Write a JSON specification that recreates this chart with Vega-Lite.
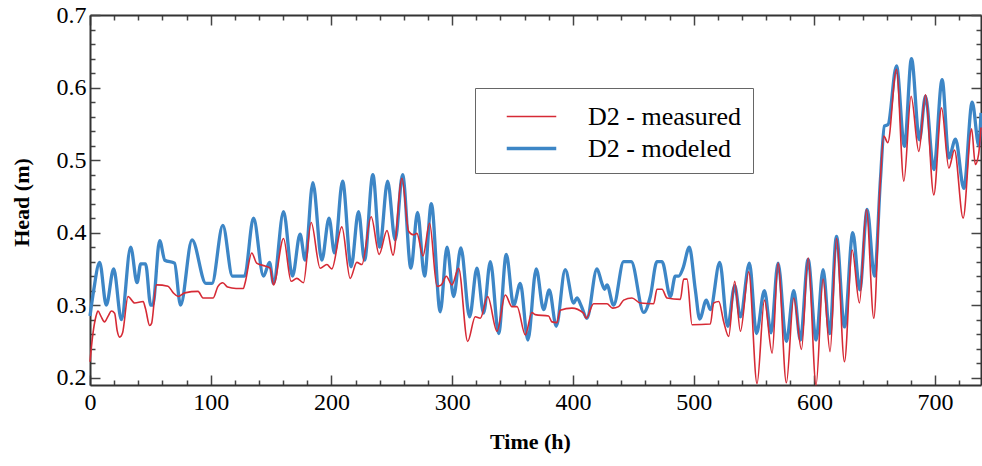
{
  "$schema": "https://vega.github.io/schema/vega-lite/v6.json",
  "width": 891,
  "height": 370,
  "autosize": "none",
  "padding": {"left": 90, "top": 15, "right": 1, "bottom": 81},
  "background": "white",
  "config": {"view": {"stroke": null}, "font": "Liberation Serif"},
  "datasets": {
    "modeled": [
      {"t":0,"h":0.285},{"t":3,"h":0.32},{"t":8,"h":0.359},{"t":13.5,"h":0.3},{"t":19.6,"h":0.35},{"t":26,"h":0.28},{"t":33.7,"h":0.38},{"t":39,"h":0.331},{"t":42,"h":0.357},{"t":46,"h":0.357},{"t":50.3,"h":0.3},{"t":52,"h":0.3},{"t":57.7,"h":0.389},{"t":62,"h":0.362},{"t":70,"h":0.358},{"t":75,"h":0.3},{"t":84.5,"h":0.39},{"t":96,"h":0.33},{"t":101,"h":0.33},{"t":110,"h":0.41},{"t":118,"h":0.34},{"t":128,"h":0.34},{"t":135.4,"h":0.42},{"t":143.7,"h":0.34},{"t":148.7,"h":0.359},{"t":152,"h":0.33},{"t":160.3,"h":0.429},{"t":167.7,"h":0.34},{"t":174,"h":0.398},{"t":178.2,"h":0.362},{"t":184.6,"h":0.469},{"t":192,"h":0.362},{"t":198,"h":0.42},{"t":202.5,"h":0.372},{"t":209.2,"h":0.471},{"t":216.3,"h":0.353},{"t":222.4,"h":0.429},{"t":227.4,"h":0.362},{"t":234.3,"h":0.48},{"t":240,"h":0.38},{"t":246.5,"h":0.471},{"t":252.8,"h":0.39},{"t":258.9,"h":0.48},{"t":265.8,"h":0.351},{"t":271.3,"h":0.428},{"t":277.1,"h":0.34},{"t":282.7,"h":0.44},{"t":290.1,"h":0.291},{"t":295.7,"h":0.38},{"t":301.2,"h":0.312},{"t":307.2,"h":0.379},{"t":314.4,"h":0.284},{"t":320.5,"h":0.351},{"t":326,"h":0.289},{"t":331.6,"h":0.36},{"t":338.5,"h":0.261},{"t":344.8,"h":0.37},{"t":350.9,"h":0.3},{"t":356.4,"h":0.33},{"t":362.7,"h":0.252},{"t":369.6,"h":0.35},{"t":375.7,"h":0.294},{"t":380.4,"h":0.321},{"t":386.2,"h":0.271},{"t":393.6,"h":0.349},{"t":400.6,"h":0.303},{"t":403.3,"h":0.31},{"t":406.9,"h":0.299},{"t":411.6,"h":0.282},{"t":419.9,"h":0.35},{"t":424,"h":0.33},{"t":426.2,"h":0.322},{"t":428.2,"h":0.328},{"t":433.7,"h":0.3},{"t":442,"h":0.36},{"t":448.3,"h":0.36},{"t":458.6,"h":0.29},{"t":464.1,"h":0.312},{"t":469.6,"h":0.36},{"t":473.8,"h":0.36},{"t":480.7,"h":0.312},{"t":484.8,"h":0.34},{"t":487.6,"h":0.34},{"t":491.2,"h":0.351},{"t":496.4,"h":0.38},{"t":501.4,"h":0.321},{"t":505,"h":0.281},{"t":510.5,"h":0.307},{"t":513.8,"h":0.294},{"t":521.6,"h":0.359},{"t":528.2,"h":0.271},{"t":534,"h":0.327},{"t":538.7,"h":0.284},{"t":546.2,"h":0.358},{"t":552,"h":0.261},{"t":558.6,"h":0.32},{"t":564.1,"h":0.262},{"t":569.9,"h":0.358},{"t":576.8,"h":0.25},{"t":582.9,"h":0.32},{"t":588.4,"h":0.252},{"t":594.8,"h":0.363},{"t":601.4,"h":0.252},{"t":607.2,"h":0.349},{"t":612.7,"h":0.261},{"t":618.3,"h":0.395},{"t":624.9,"h":0.27},{"t":631.8,"h":0.4},{"t":637.6,"h":0.321},{"t":643.7,"h":0.432},{"t":649.8,"h":0.34},{"t":654.7,"h":0.473},{"t":658,"h":0.547},{"t":661,"h":0.549},{"t":668,"h":0.63},{"t":674.6,"h":0.519},{"t":680.4,"h":0.64},{"t":687,"h":0.528},{"t":692,"h":0.588},{"t":698.9,"h":0.487},{"t":705.8,"h":0.611},{"t":711.4,"h":0.503},{"t":716.9,"h":0.529},{"t":723.8,"h":0.461},{"t":730.7,"h":0.58},{"t":736.2,"h":0.52},{"t":738,"h":0.565}
    ],
    "measured": [
      {"t":0,"h":0.222},{"t":2,"h":0.255},{"t":5,"h":0.285},{"t":6.6,"h":0.292},{"t":9,"h":0.285},{"t":12,"h":0.277},{"t":15,"h":0.285},{"t":17.7,"h":0.292},{"t":20.4,"h":0.289},{"t":22.5,"h":0.265},{"t":24.6,"h":0.256},{"t":27,"h":0.262},{"t":31.5,"h":0.312},{"t":37,"h":0.303},{"t":44,"h":0.305},{"t":46,"h":0.295},{"t":49.4,"h":0.272},{"t":51,"h":0.275},{"t":55,"h":0.328},{"t":64.6,"h":0.326},{"t":69,"h":0.317},{"t":73,"h":0.312},{"t":78.5,"h":0.317},{"t":89.5,"h":0.319},{"t":93.6,"h":0.31},{"t":102,"h":0.31},{"t":106,"h":0.326},{"t":110,"h":0.331},{"t":114,"h":0.325},{"t":121,"h":0.323},{"t":127,"h":0.323},{"t":128.5,"h":0.331},{"t":134,"h":0.372},{"t":138,"h":0.358},{"t":145,"h":0.354},{"t":149.2,"h":0.351},{"t":152,"h":0.328},{"t":160.3,"h":0.392},{"t":166.6,"h":0.333},{"t":171.3,"h":0.337},{"t":176.8,"h":0.331},{"t":183.2,"h":0.414},{"t":190.6,"h":0.351},{"t":196.2,"h":0.356},{"t":200.3,"h":0.35},{"t":208.6,"h":0.408},{"t":215.5,"h":0.337},{"t":221,"h":0.359},{"t":225.2,"h":0.356},{"t":232.9,"h":0.422},{"t":239.5,"h":0.37},{"t":246,"h":0.403},{"t":251,"h":0.369},{"t":258.4,"h":0.475},{"t":263.9,"h":0.402},{"t":268,"h":0.397},{"t":270.8,"h":0.399},{"t":275.8,"h":0.368},{"t":281.3,"h":0.413},{"t":287.4,"h":0.326},{"t":291,"h":0.328},{"t":295.1,"h":0.34},{"t":299.8,"h":0.328},{"t":305.3,"h":0.351},{"t":312.8,"h":0.25},{"t":319.1,"h":0.284},{"t":323.3,"h":0.282},{"t":329.4,"h":0.312},{"t":337.1,"h":0.264},{"t":344,"h":0.314},{"t":349.5,"h":0.298},{"t":353.7,"h":0.298},{"t":360.6,"h":0.259},{"t":366,"h":0.29},{"t":368.8,"h":0.287},{"t":379.8,"h":0.285},{"t":382.6,"h":0.277},{"t":386.7,"h":0.276},{"t":389.5,"h":0.293},{"t":399.2,"h":0.296},{"t":408.8,"h":0.289},{"t":411,"h":0.282},{"t":417.1,"h":0.302},{"t":428.2,"h":0.302},{"t":432.9,"h":0.296},{"t":437.8,"h":0.298},{"t":442,"h":0.307},{"t":448.9,"h":0.31},{"t":455.8,"h":0.303},{"t":466.9,"h":0.302},{"t":469.6,"h":0.322},{"t":473.8,"h":0.322},{"t":477.9,"h":0.31},{"t":489,"h":0.308},{"t":491.7,"h":0.336},{"t":494.5,"h":0.336},{"t":498.7,"h":0.273},{"t":513.8,"h":0.274},{"t":516.6,"h":0.303},{"t":520.8,"h":0.305},{"t":524.9,"h":0.277},{"t":529,"h":0.257},{"t":534,"h":0.333},{"t":538.7,"h":0.264},{"t":545.6,"h":0.346},{"t":552.5,"h":0.192},{"t":558.6,"h":0.307},{"t":565,"h":0.234},{"t":569.9,"h":0.358},{"t":576.8,"h":0.193},{"t":582.9,"h":0.31},{"t":589.3,"h":0.239},{"t":594.8,"h":0.365},{"t":601.4,"h":0.19},{"t":607.2,"h":0.336},{"t":613,"h":0.236},{"t":618.3,"h":0.392},{"t":624.9,"h":0.222},{"t":631.3,"h":0.376},{"t":637.3,"h":0.303},{"t":643.1,"h":0.432},{"t":649.2,"h":0.282},{"t":654.2,"h":0.459},{"t":657.5,"h":0.533},{"t":660.8,"h":0.524},{"t":668,"h":0.625},{"t":674.1,"h":0.471},{"t":680.1,"h":0.588},{"t":686.5,"h":0.512},{"t":692,"h":0.59},{"t":698.9,"h":0.452},{"t":705.3,"h":0.572},{"t":711.4,"h":0.489},{"t":716,"h":0.514},{"t":723.2,"h":0.42},{"t":730.2,"h":0.543},{"t":733.3,"h":0.494},{"t":736,"h":0.508},{"t":738,"h":0.545}
    ]
  },
  "layer": [
    {
      "data": {"name": "modeled"},
      "mark": {"type": "line", "interpolate": "monotone"},
      "encoding": {
        "x": {
          "field": "t", "type": "quantitative",
          "scale": {"domain": [0, 738], "nice": false, "zero": false},
          "axis": {
            "orient": "bottom",
            "values": [0,20,40,60,80,100,120,140,160,180,200,220,240,260,280,300,320,340,360,380,400,420,440,460,480,500,520,540,560,580,600,620,640,660,680,700,720],
            "labelExpr": "datum.value % 100 === 0 ? datum.label : ''",
            "labelFont": "Liberation Serif", "labelFontSize": 24, "labelColor": "black",
            "labelPadding": 15, "labelFlush": false, "labelOverlap": false,
            "tickSize": {"condition": {"test": "datum.value % 100 === 0", "value": -10}, "value": -5},
            "tickColor": "#444", "tickWidth": 1.5,
            "domainColor": "#333", "domainWidth": 2, "grid": false,
            "title": "Time (h)", "titleFont": "Liberation Serif", "titleFontSize": 22,
            "titleFontWeight": "bold", "titleColor": "black",
            "titleX": 440, "titleY": 56, "titleBaseline": "middle", "titleAlign": "center"
          }
        },
        "y": {
          "field": "h", "type": "quantitative",
          "scale": {"domain": [0.19, 0.7], "nice": false, "zero": false},
          "axis": {
            "orient": "left",
            "values": [0.2,0.22,0.24,0.26,0.28,0.3,0.32,0.34,0.36,0.38,0.4,0.42,0.44,0.46,0.48,0.5,0.52,0.54,0.56,0.58,0.6,0.62,0.64,0.66,0.68,0.7],
            "labelExpr": "abs(datum.value*10 - round(datum.value*10)) < 0.001 ? format(datum.value, '.1f') : ''",
            "labelFont": "Liberation Serif", "labelFontSize": 24, "labelColor": "black",
            "labelPadding": 14, "labelFlush": false, "labelOverlap": false,
            "tickSize": {"condition": {"test": "abs(datum.value*10 - round(datum.value*10)) < 0.001", "value": -10}, "value": -5},
            "tickColor": "#444", "tickWidth": 1.5,
            "domainColor": "#333", "domainWidth": 2, "grid": false,
            "title": "Head (m)", "titleFont": "Liberation Serif", "titleFontSize": 22,
            "titleFontWeight": "bold", "titleColor": "black",
            "titleX": -69, "titleY": 187, "titleBaseline": "middle", "titleAlign": "center", "titleAngle": -90
          }
        },
        "color": {
          "datum": "D2 - modeled", "type": "nominal",
          "scale": {"domain": ["D2 - measured", "D2 - modeled"], "range": ["#d62a35", "#3d86c6"]},
          "legend": {
            "orient": "none", "legendX": 385, "legendY": 73, "title": null,
            "symbolType": "M-1.5,0H1.5", "symbolSize": 1089,
            "labelFont": "Liberation Serif", "labelFontSize": 26, "labelColor": "black",
            "labelOffset": 38, "padding": 11, "strokeColor": "#666", "fillColor": "white",
            "rowPadding": 0, "symbolOffset": 27, "labelLimit": 400
          }
        },
        "strokeWidth": {
          "datum": "D2 - modeled", "type": "nominal",
          "scale": {"domain": ["D2 - measured", "D2 - modeled"], "range": [1.6, 3.3]},
          "legend": {
            "orient": "none", "legendX": 385, "legendY": 73, "title": null,
            "symbolType": "M-1.5,0H1.5", "symbolSize": 1089,
            "labelFont": "Liberation Serif", "labelFontSize": 26, "labelColor": "black",
            "labelOffset": 38, "padding": 11, "strokeColor": "#666", "fillColor": "white",
            "rowPadding": 0, "symbolOffset": 27, "labelLimit": 400
          }
        }
      }
    },
    {
      "data": {"name": "measured"},
      "mark": {"type": "line", "interpolate": "monotone"},
      "encoding": {
        "x": {
          "field": "t", "type": "quantitative",
          "axis": {
            "orient": "top", "labels": false, "title": null,
            "values": [0,20,40,60,80,100,120,140,160,180,200,220,240,260,280,300,320,340,360,380,400,420,440,460,480,500,520,540,560,580,600,620,640,660,680,700,720],
            "tickSize": {"condition": {"test": "datum.value % 100 === 0", "value": -10}, "value": -5},
            "tickColor": "#444", "tickWidth": 1.5,
            "domainColor": "#333", "domainWidth": 2, "grid": false
          }
        },
        "y": {
          "field": "h", "type": "quantitative",
          "axis": {
            "orient": "right", "labels": false, "title": null,
            "values": [0.2,0.22,0.24,0.26,0.28,0.3,0.32,0.34,0.36,0.38,0.4,0.42,0.44,0.46,0.48,0.5,0.52,0.54,0.56,0.58,0.6,0.62,0.64,0.66,0.68,0.7],
            "tickSize": {"condition": {"test": "abs(datum.value*10 - round(datum.value*10)) < 0.001", "value": -10}, "value": -5},
            "tickColor": "#444", "tickWidth": 1.5,
            "domainColor": "#333", "domainWidth": 2, "grid": false
          }
        },
        "color": {"datum": "D2 - measured", "type": "nominal"},
        "strokeWidth": {"datum": "D2 - measured", "type": "nominal"}
      }
    }
  ],
  "resolve": {"axis": {"x": "independent", "y": "independent"}}
}
